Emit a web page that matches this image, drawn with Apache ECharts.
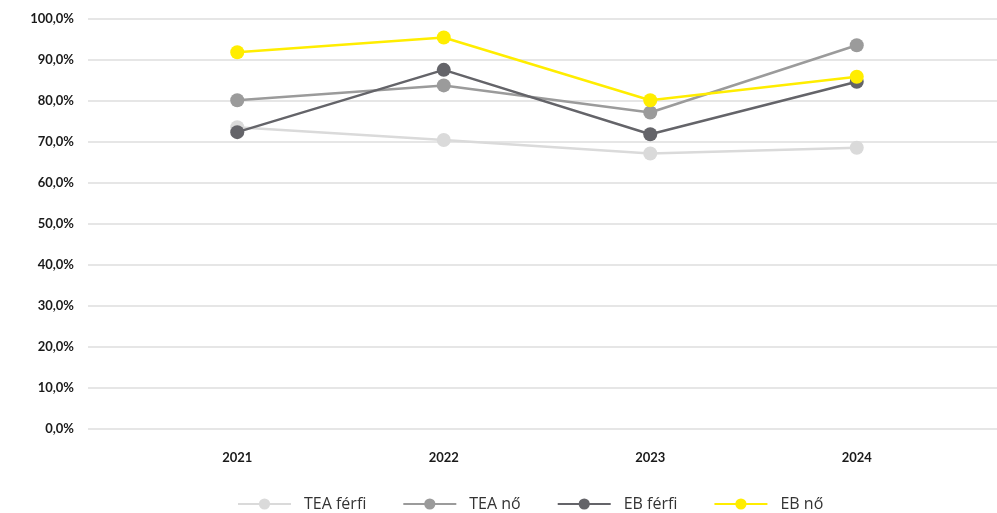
<!DOCTYPE html>
<html>
<head>
<meta charset="utf-8">
<script src="https://cdn.jsdelivr.net/npm/echarts@6/dist/echarts.min.js"></script>
<style>
  html, body { margin: 0; padding: 0; background: #fff; }
  #chart { width: 997px; height: 513px; }
</style>
</head>
<body>
<div id="chart"></div>
<script>
  const years = ['2021', '2022', '2023', '2024']
  const teaFerfi = [73.6, 70.5, 67.2, 68.6]
  const teaNo = [80.2, 83.8, 77.2, 93.6]
  const ebFerfi = [72.4, 87.6, 71.9, 84.7]
  const ebNo = [91.9, 95.5, 80.2, 85.9]

  const seriesNames = ['TEA férfi', 'TEA nő', 'EB férfi', 'EB nő']
  const seriesColors = ['#dadada', '#9b9b9b', '#646469', '#ffed00']
  const seriesData = [teaFerfi, teaNo, ebFerfi, ebNo]

  const mChart = echarts.init(document.getElementById('chart'))

  const option = {
    animation: false,
    // grid 0: only the y labels and the long split lines, grid 1: the data
    grid: [
      { left: 88, right: 0, top: 19, bottom: 84 },
      { left: 134, right: 37, top: 19, bottom: 84 }
    ],
    legend: {
      top: 496,
      left: 237,
      padding: 0,
      itemWidth: 53,
      itemHeight: 14,
      itemGap: 36,
      textStyle: { color: '#333', fontSize: 16, fontFamily: 'Open Sans', padding: [0, 0, 0, 8] },
      data: seriesNames
    },
    xAxis: [
      { gridIndex: 0, type: 'value', min: 0, max: 1, show: false },
      {
        gridIndex: 1,
        type: 'category',
        data: years,
        boundaryGap: true,
        axisLine: { show: false },
        axisTick: { show: false },
        axisLabel: {
          margin: 22,
          color: '#1a1a1a',
          fontSize: 13,
          fontWeight: 'bold',
          fontFamily: 'Lato'
        }
      }
    ],
    yAxis: [
      {
        gridIndex: 0,
        type: 'value',
        min: 0,
        max: 100,
        interval: 10,
        axisLine: { show: false },
        axisTick: { show: false },
        splitLine: { lineStyle: { color: '#e6e6e6', width: 2 } },
        axisLabel: {
          margin: 14,
          color: '#1a1a1a',
          fontSize: 13,
          fontWeight: 'bold',
          fontFamily: 'Lato',
          formatter: v => v.toFixed(1).replace('.', ',') + '%'
        }
      },
      {
        gridIndex: 1,
        type: 'value',
        min: 0,
        max: 100,
        interval: 10,
        show: false,
        splitLine: { show: false }
      }
    ],
    series: seriesNames.map((name, i) => ({
      name: name,
      type: 'line',
      xAxisIndex: 1,
      yAxisIndex: 1,
      data: seriesData[i],
      symbol: 'circle',
      symbolSize: 14,
      color: seriesColors[i],
      lineStyle: { width: 2.5, color: seriesColors[i] },
      itemStyle: { color: seriesColors[i] },
      z: 2 + i
    }))
  }

  mChart.setOption(option)
  window.addEventListener('resize', function() {
    mChart.resize()
  })
</script>
</body>
</html>
